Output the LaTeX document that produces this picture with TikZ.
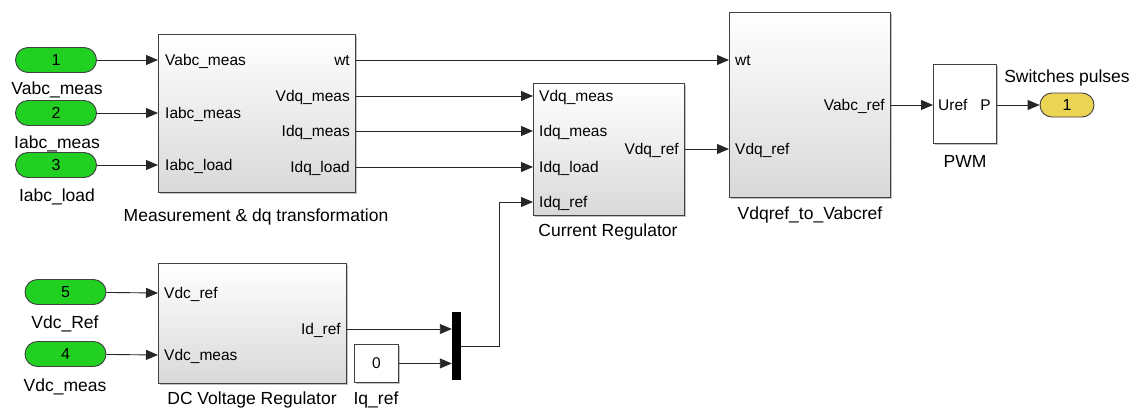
\documentclass[tikz,border=0pt]{standalone}
\usepackage{fontspec}
\setmainfont{Liberation Sans}
\usetikzlibrary{arrows.meta,shadows}
\definecolor{portgreen}{RGB}{34,208,34}
\definecolor{portyellow}{RGB}{236,212,84}
\begin{document}
\begin{tikzpicture}[x=1pt,y=-1pt,
  blk/.style={draw=black!75, line width=0.9pt, top color=white, bottom color=black!15,
    drop shadow={shadow xshift=1.6pt, shadow yshift=-1.6pt, fill=black!40, opacity=0.6},
    inner sep=0, anchor=north west},
  wblk/.style={draw=black!75, line width=0.9pt, fill=white,
    drop shadow={shadow xshift=1.6pt, shadow yshift=-1.6pt, fill=black!40, opacity=0.6},
    inner sep=0, anchor=north west},
  pill/.style={draw=black!75, line width=0.9pt, rounded corners=12.5pt,
    minimum width=81, minimum height=25, inner sep=0,
    font=\fontsize{16}{18}\selectfont},
  inport/.style={pill, fill=portgreen},
  outport/.style={pill, fill=portyellow, minimum width=54, minimum height=24, rounded corners=12pt},
  ptl/.style={inner sep=0, text height=12, text depth=1, font=\fontsize{15.5}{18}\selectfont},
  lbl/.style={inner sep=0, text height=13, text depth=1, font=\fontsize{17.5}{20}\selectfont},
  sig/.style={draw=black!85, line width=0.9pt, -{Triangle[length=12pt,width=10pt]}},
  wire/.style={draw=black!85, line width=0.9pt}]

\useasboundingbox (0,0) rectangle (1136,410);

% Input ports
\node[inport] (in1) at (56,60) {1};
\node[lbl] (in1l) at (57,88) {Vabc\_meas};
\node[inport] (in2) at (56,113) {2};
\node[lbl] (in2l) at (57,142) {Iabc\_meas};
\node[inport] (in3) at (56,165) {3};
\node[lbl] (in3l) at (57,195) {Iabc\_load};
\node[inport] (in5) at (65.5,292) {5};
\node[lbl] (in5l) at (65,322) {Vdc\_Ref};
\node[inport] (in4) at (65.5,354) {4};
\node[lbl] (in4l) at (65,385) {Vdc\_meas};

% Measurement & dq transformation
\node[blk, minimum width=197, minimum height=158] (meas) at (158,34) {};
\node[ptl, anchor=west] (m-va) at (165,60) {Vabc\_meas};
\node[ptl, anchor=west] (m-ia) at (165,113) {Iabc\_meas};
\node[ptl, anchor=west] (m-il) at (165,165) {Iabc\_load};
\node[ptl, anchor=east] (m-wt) at (350,60) {wt};
\node[ptl, anchor=east] (m-vdq) at (350,96) {Vdq\_meas};
\node[ptl, anchor=east] (m-idq) at (350,131) {Idq\_meas};
\node[ptl, anchor=east] (m-idl) at (350,167) {Idq\_load};
\node[lbl] (measl) at (256,215) {Measurement \& dq transformation};

% Current regulator
\node[blk, minimum width=151, minimum height=132] (cr) at (533,83) {};
\node[ptl, anchor=west] (c-vdq) at (539,96) {Vdq\_meas};
\node[ptl, anchor=west] (c-idq) at (539,131) {Idq\_meas};
\node[ptl, anchor=west] (c-idl) at (539,167) {Idq\_load};
\node[ptl, anchor=west] (c-iref) at (539,202) {Idq\_ref};
\node[ptl, anchor=east] (c-vref) at (679,149) {Vdq\_ref};
\node[lbl] (crl) at (608,230) {Current Regulator};

% dq to abc reference transformation
\node[blk, minimum width=161, minimum height=185] (vd) at (729,12) {};
\node[ptl, anchor=west] (v-wt) at (735,60) {wt};
\node[ptl, anchor=west] (v-vdq) at (735,149) {Vdq\_ref};
\node[ptl, anchor=east] (v-vabc) at (885,105) {Vabc\_ref};
\node[lbl] (vdl) at (810,213) {Vdqref\_to\_Vabcref};

% PWM generator and output port
\node[wblk, minimum width=63, minimum height=79] (pwm) at (933,64) {};
\node[ptl, anchor=west] (p-uref) at (938,105) {Uref};
\node[ptl, anchor=east] (p-p) at (991,105) {P};
\node[lbl] (pwml) at (965,161) {PWM};
\node[outport] (out1) at (1067,105) {1};
\node[lbl] (out1l) at (1067,76) {Switches pulses};

% DC voltage regulator
\node[blk, minimum width=188, minimum height=120] (dc) at (158,263) {};
\node[ptl, anchor=west] (d-vref) at (164,293) {Vdc\_ref};
\node[ptl, anchor=west] (d-vmeas) at (164,355) {Vdc\_meas};
\node[ptl, anchor=east] (d-id) at (341,329) {Id\_ref};
\node[lbl] (dcl) at (252,398) {DC Voltage Regulator};

% Constant and mux
\node[wblk, minimum width=44, minimum height=38] (cst) at (354,344) {};
\node[ptl] (cstv) at (cst.center) {0};
\node[lbl] (cstl) at (376,398) {Iq\_ref};
\node[fill=black, minimum width=9, minimum height=68, inner sep=0] (mux) at (456.5,346) {};
\coordinate (bend) at (499,346);

% Signals
\draw[sig] (in1) -- (meas.west |- m-va);
\draw[sig] (in2) -- (meas.west |- m-ia);
\draw[sig] (in3) -- (meas.west |- m-il);
\draw[sig] (in5) -- (dc.west |- d-vref);
\draw[sig] (in4) -- (dc.west |- d-vmeas);
\draw[sig] (meas.east |- m-wt) -- (vd.west |- m-wt);
\draw[sig] (meas.east |- m-vdq) -- (cr.west |- m-vdq);
\draw[sig] (meas.east |- m-idq) -- (cr.west |- m-idq);
\draw[sig] (meas.east |- m-idl) -- (cr.west |- m-idl);
\draw[sig] (cr.east |- c-vref) -- (vd.west |- c-vref);
\draw[sig] (vd.east |- v-vabc) -- (pwm.west |- v-vabc);
\draw[sig] (pwm.east |- p-p) -- (out1.west);
\draw[sig] (dc.east |- d-id) -- (mux.west |- d-id);
\draw[sig] (cst.east |- cstv) -- (mux.west |- cstv);
\draw[sig] (mux.east |- bend) -- (bend) |- (cr.west |- c-iref);
\end{tikzpicture}
\end{document}
